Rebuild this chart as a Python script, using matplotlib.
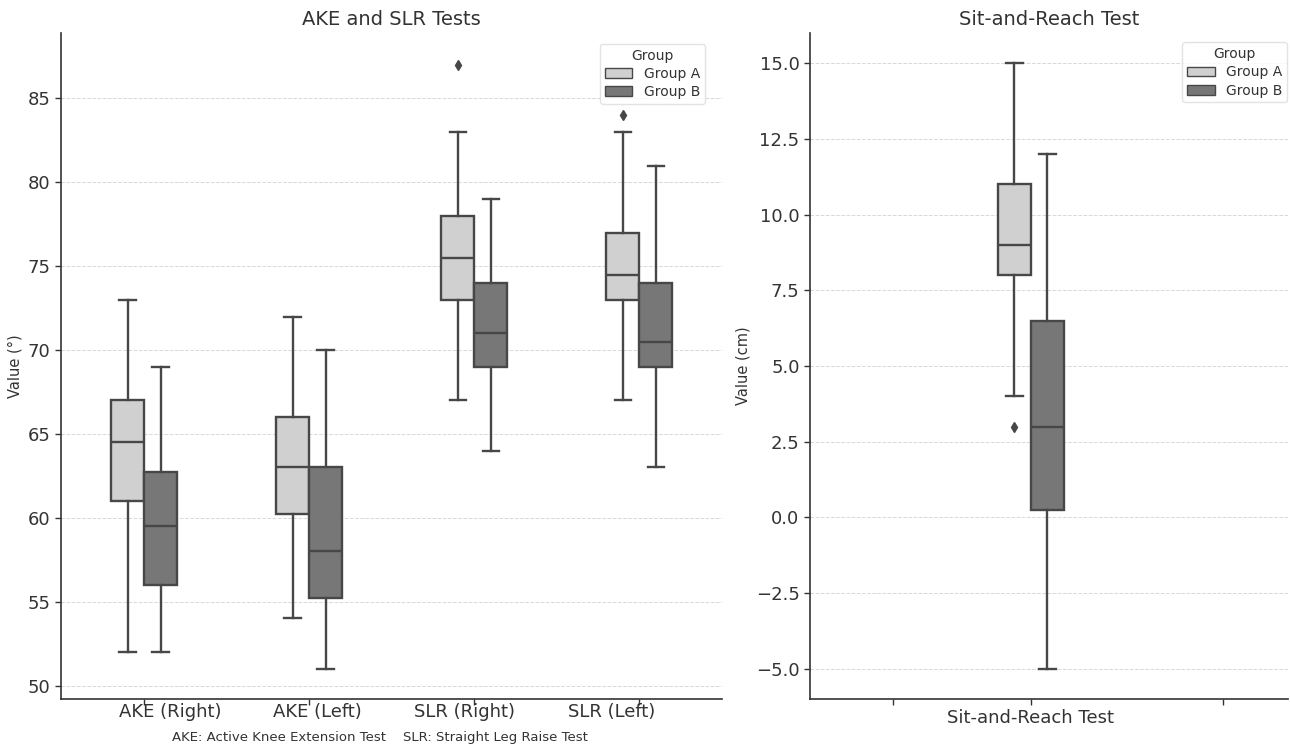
import matplotlib.pyplot as plt
from matplotlib.patches import Patch

# Left panel: AKE and SLR tests (degrees)
tests = ['AKE (Right)', 'AKE (Left)', 'SLR (Right)', 'SLR (Left)']
a_low = [52, 54, 67, 67]
a_q1 = [61, 60.25, 73, 73]
a_med = [64.5, 63, 75.5, 74.5]
a_q3 = [67, 66, 78, 77]
a_high = [73, 72, 83, 83]
a_fliers = [[], [], [87], [84]]

b_low = [52, 51, 64, 63]
b_q1 = [56, 55.25, 69, 69]
b_med = [59.5, 58, 71, 70.5]
b_q3 = [62.75, 63, 74, 74]
b_high = [69, 70, 79, 81]
b_fliers = [[], [], [], []]

# Right panel: sit-and-reach (cm)
sr_label = 'Sit-and-Reach Test'
sr_a = [4, 8, 9, 11, 15]      # low, q1, med, q3, high
sr_a_fliers = [3]
sr_b = [-5, 0.25, 3, 6.5, 12]
sr_b_fliers = []

groups = ['Group A', 'Group B']
colors = ['#d0d0d0', '#777777']
edge = '#474747'
text_c = '#333333'


def make_stats(low, q1, med, q3, high, fliers):
    return [dict(whislo=l, q1=a, med=m, q3=b, whishi=h, fliers=f)
            for l, a, m, b, h, f in zip(low, q1, med, q3, high, fliers)]


def draw_boxes(ax, stats, positions, color, width=0.2):
    ax.bxp(stats, positions=positions, widths=width, patch_artist=True,
           showfliers=True, manage_ticks=False,
           boxprops=dict(facecolor=color, edgecolor=edge, linewidth=1.7),
           medianprops=dict(color=edge, linewidth=1.7),
           whiskerprops=dict(color=edge, linewidth=1.7),
           capprops=dict(color=edge, linewidth=1.7),
           flierprops=dict(marker='d', markerfacecolor=edge, markeredgecolor=edge,
                           markersize=5.5, linestyle='none'),
           capwidths=width / 2)


def style_axes(ax, anchor):
    for s in ['top', 'right']:
        ax.spines[s].set_visible(False)
    for s in ['left', 'bottom']:
        ax.spines[s].set_color(text_c)
        ax.spines[s].set_linewidth(1.2)
    ax.yaxis.grid(True, linestyle='--', color='#d8d8d8', linewidth=0.7)
    ax.set_axisbelow(True)
    ax.tick_params(axis='both', colors=text_c, labelsize=13, length=4, width=1)
    handles = [Patch(facecolor=c, edgecolor=edge, label=g) for g, c in zip(groups, colors)]
    leg = ax.legend(handles=handles, title='Group', loc='upper right', fontsize=10,
                    title_fontsize=10, frameon=True, labelcolor=text_c,
                    bbox_to_anchor=anchor, borderaxespad=0,
                    labelspacing=0.3, borderpad=0.35)
    leg.get_frame().set_edgecolor('#dddddd')
    leg.get_title().set_color(text_c)


fig = plt.figure(figsize=(12.9, 7.48), dpi=100)

# == Left panel ==
ax1 = fig.add_axes([61 / 1290, 49 / 748, (722 - 61) / 1290, 666 / 748])
xs = list(range(len(tests)))
draw_boxes(ax1, make_stats(a_low, a_q1, a_med, a_q3, a_high, a_fliers),
           [x - 0.1 for x in xs], colors[0])
draw_boxes(ax1, make_stats(b_low, b_q1, b_med, b_q3, b_high, b_fliers),
           [x + 0.1 for x in xs], colors[1])
ax1.set_xlim(-0.503, 3.5)
ax1.set_ylim(49.2, 88.9)
ax1.set_yticks([50, 55, 60, 65, 70, 75, 80, 85])
ax1.set_xticks(xs)
ax1.set_xticklabels([''] * len(tests))
# category labels sit a little off the tick marks, as in the reference
ax1.set_xticks([0.16, 1.05, 1.94, 2.83], tests, minor=True)
ax1.tick_params(axis='x', which='minor', length=0, labelsize=13, colors=text_c, pad=3)
ax1.set_ylabel('Value (°)', fontsize=10.5, color=text_c)
ax1.set_title('AKE and SLR Tests', fontsize=14, color=text_c)
style_axes(ax1, (0.974, 0.984))

# == Right panel ==
ax2 = fig.add_axes([810 / 1290, 49 / 748, (1288 - 810) / 1290, 666 / 748])
draw_boxes(ax2, make_stats([sr_a[0]], [sr_a[1]], [sr_a[2]], [sr_a[3]], [sr_a[4]], [sr_a_fliers]),
           [-0.1], colors[0])
draw_boxes(ax2, make_stats([sr_b[0]], [sr_b[1]], [sr_b[2]], [sr_b[3]], [sr_b[4]], [sr_b_fliers]),
           [0.1], colors[1])
ax2.set_xlim(-1.34, 1.56)
ax2.set_ylim(-6.0, 16.0)
ax2.set_yticks([-5.0, -2.5, 0.0, 2.5, 5.0, 7.5, 10.0, 12.5, 15.0])
ax2.set_yticklabels([('%.1f' % v).replace('-', '\u2212') for v in ax2.get_yticks()])
ax2.set_xticks([-0.836, 0, 1.164])
ax2.set_xticklabels(['', sr_label, ''])
ax2.set_ylabel('Value (cm)', fontsize=10.5, color=text_c)
ax2.set_title('Sit-and-Reach Test', fontsize=14, color=text_c)
style_axes(ax2, (0.998, 0.986))

fig.text(380 / 1290, 1 - 738 / 748,
         'AKE: Active Knee Extension Test    SLR: Straight Leg Raise Test',
         ha='center', va='center', fontsize=9.5, color=text_c)

fig.savefig('out.png', dpi=100)
